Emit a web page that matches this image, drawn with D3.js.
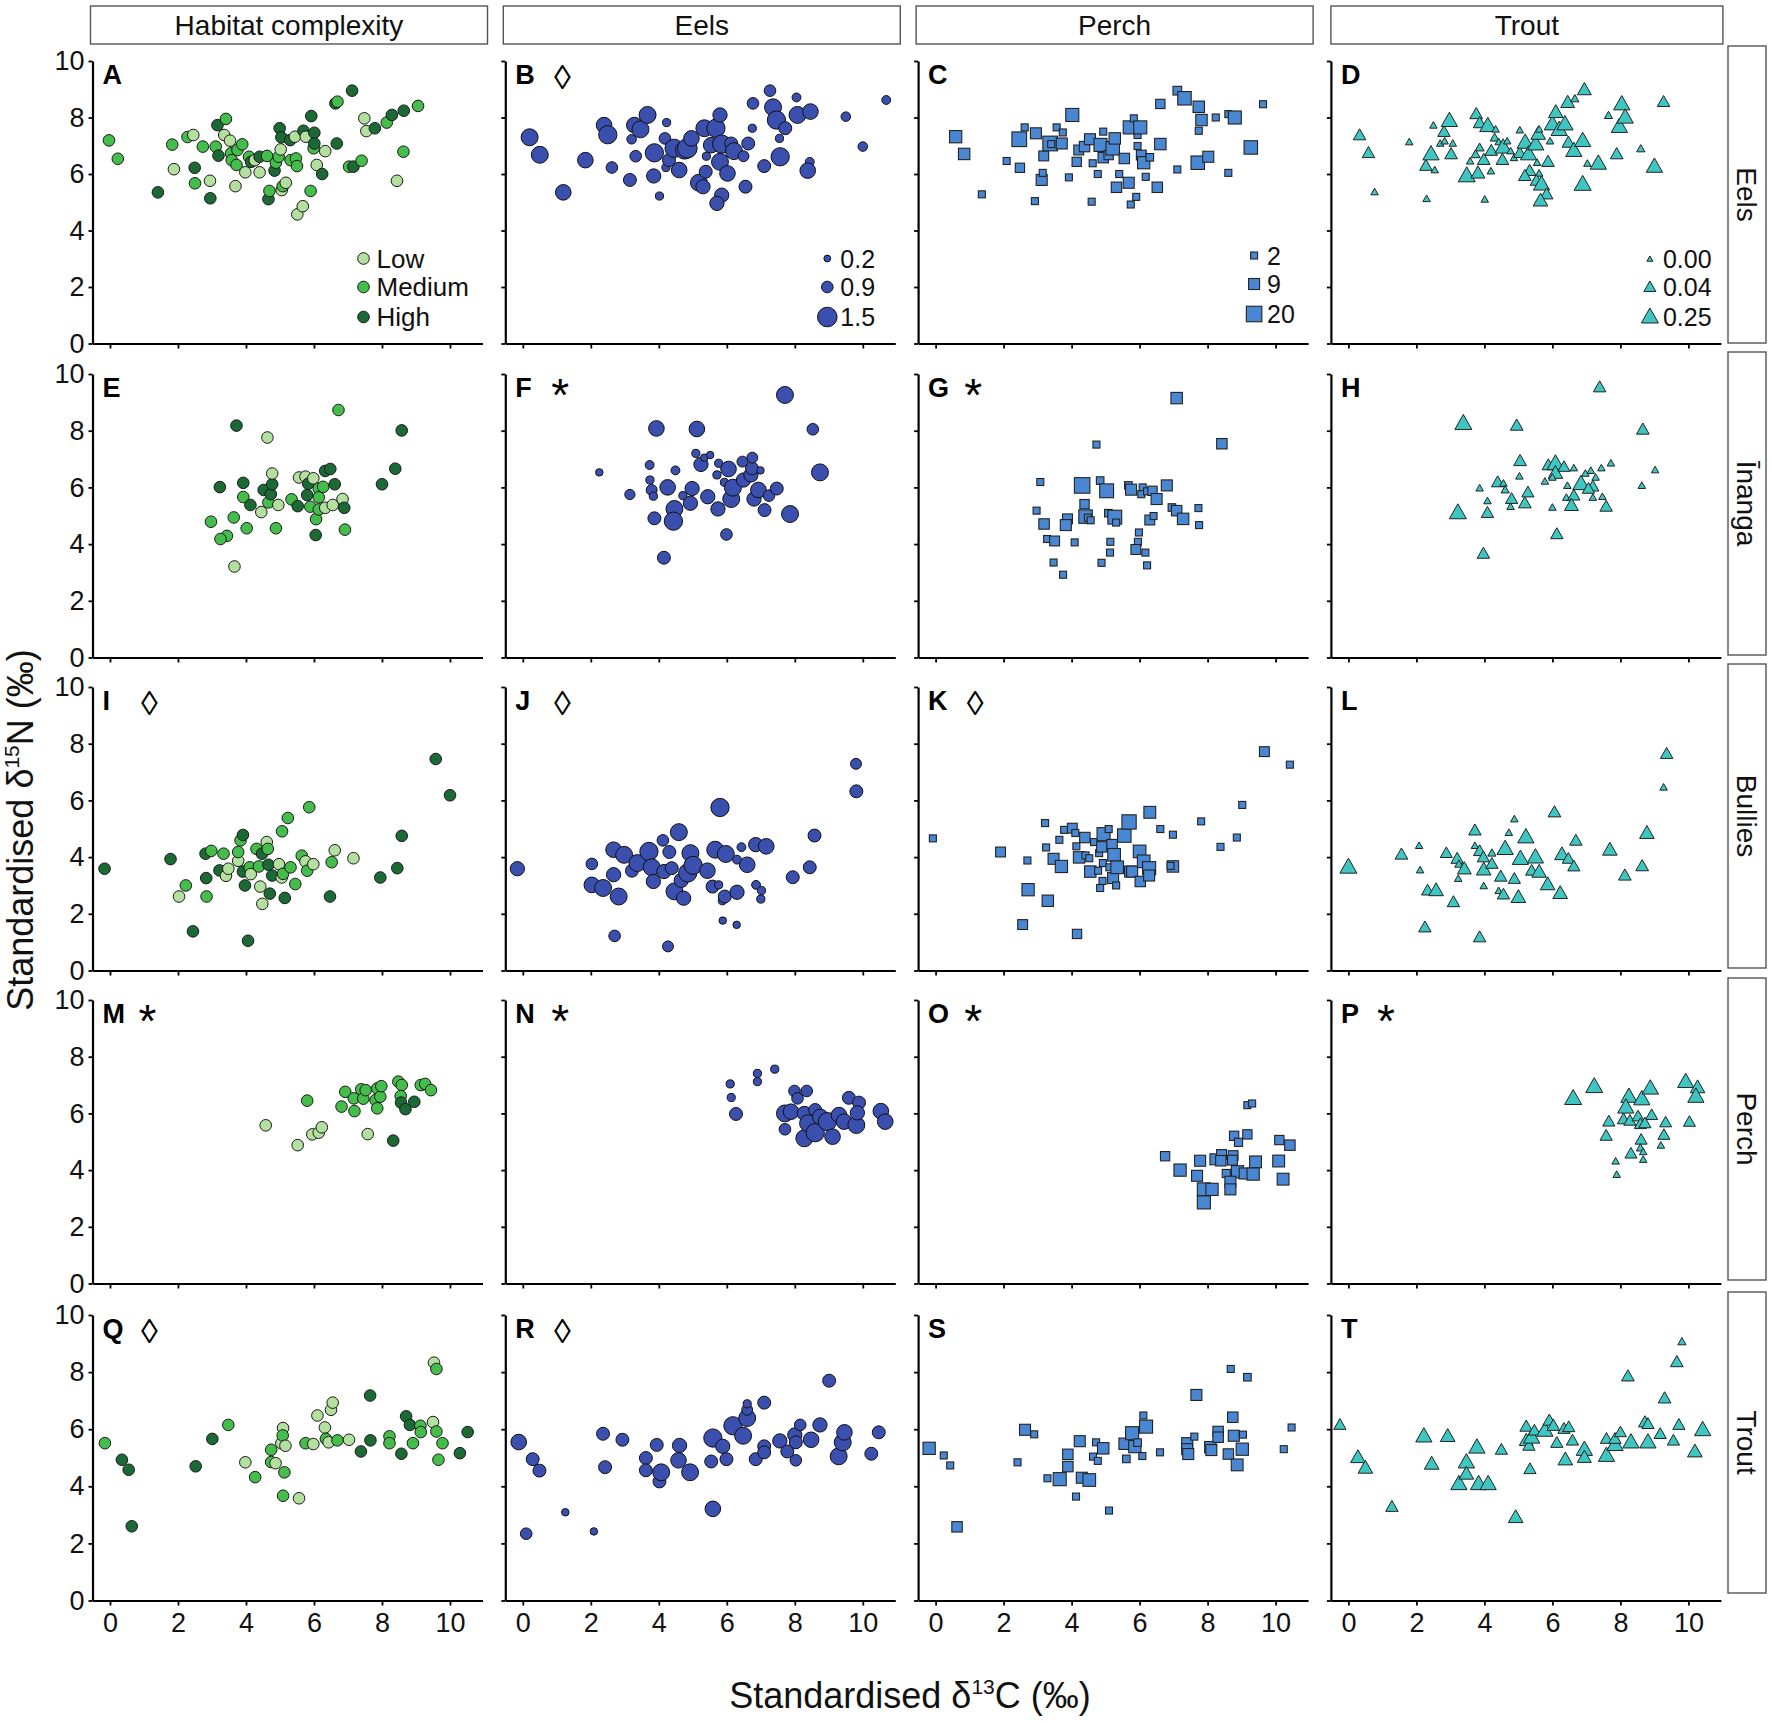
<!DOCTYPE html>
<html>
<head>
<meta charset="utf-8">
<script src="https://cdn.jsdelivr.net/npm/d3@7"></script>
<style>
body{margin:0;background:#fff;}
text{font-family:"Liberation Sans",Arial,sans-serif;}
</style>
</head>
<body>
<script>
// ---------- categories / labels ----------
const colLabels = ["Habitat complexity","Eels","Perch","Trout"];
const rowLabels = ["Eels","Īnanga","Bullies","Perch","Trout"];
const panelLetters = ["A","B","C","D","E","F","G","H","I","J","K","L","M","N","O","P","Q","R","S","T"];
const panelMarks = ["","◊","","","","*","*","","◊","◊","◊","","*","*","*","*","◊","◊","",""];
const xTicks = [0,2,4,6,8,10];
const yTicks = [0,2,4,6,8,10];
const habitatLevels = ["Low","Medium","High"];
const eelLegend = [0.2,0.9,1.5];
const perchLegend = [2,9,20];
const troutLegend = [0.00,0.04,0.25];
const troutLegendText = ["0.00","0.04","0.25"];

// ---------- data: [d13C, d15N, level or size] ----------
const panelA = [[-0.03,7.19,"M"],[0.23,6.54,"M"],[1.41,5.35,"H"],[1.83,7.04,"M"],[1.88,6.17,"L"],[2.28,7.31,"M"],[2.45,7.38,"L"],[2.49,6.22,"H"],[2.5,5.67,"M"],[2.73,6.97,"M"],[2.94,5.76,"L"],[2.95,5.14,"H"],[3.11,6.97,"M"],[3.16,7.73,"H"],[3.19,6.65,"H"],[3.36,7.38,"L"],[3.41,7.95,"M"],[3.53,7.18,"L"],[3.56,6.73,"M"],[3.58,6.49,"M"],[3.69,5.57,"L"],[3.72,6.32,"M"],[3.75,6.85,"M"],[3.89,7.05,"M"],[3.98,6.06,"L"],[4.09,6.61,"M"],[4.15,6.43,"H"],[4.26,6.49,"L"],[4.4,6.06,"L"],[4.4,6.61,"H"],[4.62,6.64,"M"],[4.66,5.11,"H"],[4.69,5.4,"M"],[4.84,6.12,"H"],[4.88,6.4,"M"],[4.96,6.61,"M"],[4.99,7.62,"H"],[5.02,6.87,"L"],[5.04,7.3,"H"],[5.05,5.43,"L"],[5.08,5.57,"M"],[5.17,5.69,"L"],[5.3,7.2,"H"],[5.31,6.49,"M"],[5.44,7.32,"L"],[5.47,6.55,"M"],[5.5,6.28,"M"],[5.51,4.57,"L"],[5.67,4.86,"L"],[5.69,7.53,"H"],[5.76,7.32,"L"],[5.9,5.4,"M"],[5.92,8.05,"H"],[5.99,6.91,"M"],[6.01,7.46,"H"],[6.01,7.08,"H"],[6.08,6.32,"L"],[6.24,6.0,"H"],[6.33,6.81,"L"],[6.63,8.5,"H"],[6.69,8.56,"M"],[6.67,7.08,"H"],[7.03,6.26,"M"],[7.12,8.95,"H"],[7.16,6.26,"H"],[7.4,6.47,"M"],[7.48,7.97,"L"],[7.54,7.52,"L"],[7.79,7.62,"H"],[8.14,7.82,"M"],[8.29,8.09,"H"],[8.44,5.76,"L"],[8.63,6.79,"M"],[8.64,8.24,"H"],[9.06,8.41,"M"]];

const panelB = [[0.2,7.3,1.3],[0.5,6.68,1.3],[1.19,5.35,1.2],[1.84,6.49,1.2],[2.39,7.73,1.2],[2.5,7.39,1.4],[2.62,6.23,0.9],[3.15,5.79,1.0],[3.2,7.23,0.6],[3.32,6.63,0.9],[3.28,7.73,1.2],[3.46,7.58,1.3],[3.67,8.09,1.3],[3.85,5.93,1.1],[3.87,6.75,1.4],[4.02,5.22,0.4],[4.18,7.26,0.9],[4.23,7.82,0.4],[4.21,6.23,0.4],[4.3,6.49,1.0],[4.45,6.91,1.4],[4.6,6.14,1.2],[4.76,6.85,1.4],[4.84,6.91,1.5],[4.96,7.26,1.2],[5.18,5.69,1.3],[5.3,5.55,1.1],[5.34,7.62,1.3],[5.4,6.63,0.4],[5.38,6.08,1.0],[5.54,7.02,1.2],[5.68,7.62,1.4],[5.8,8.09,1.1],[5.8,6.43,1.3],[5.85,7.06,1.4],[5.85,5.25,1.1],[5.71,4.96,1.1],[6.02,6.02,1.2],[6.13,7.08,1.0],[6.21,6.81,1.3],[6.49,6.63,0.8],[6.55,5.55,1.0],[6.63,7.08,1.0],[6.77,8.5,0.9],[6.75,7.62,0.4],[7.1,6.28,1.0],[7.27,8.95,0.9],[7.36,8.36,1.3],[7.46,7.91,1.4],[7.57,6.61,1.4],[7.55,7.26,0.4],[7.72,7.62,1.0],[8.05,8.71,0.5],[8.08,8.09,1.3],[8.46,8.21,1.2],[8.44,6.43,0.5],[8.38,6.12,1.2],[9.5,8.03,0.6],[10.0,6.97,0.6],[10.69,8.62,0.5]];

const panelC = [[0.59,7.32,12],[0.84,6.71,10],[1.36,5.28,2],[2.09,6.46,2],[2.48,6.22,6],[2.46,7.23,18],[2.62,7.65,2],[2.92,5.04,2],[2.95,7.44,9],[3.12,5.79,9],[3.15,6.04,2],[3.18,6.64,7],[3.37,7.08,18],[3.4,7.06,2],[3.56,7.65,2],[3.71,7.08,9],[3.74,7.47,2],[3.92,5.88,2],[4.02,8.09,14],[4.15,6.43,6],[4.21,6.85,7],[4.38,6.97,8],[4.54,7.23,9],[4.59,5.02,2],[4.62,6.38,2],[4.77,6.0,2],[4.85,7.03,14],[4.93,7.5,2],[4.93,6.58,8],[5.09,6.67,6],[5.21,6.91,15],[5.27,7.26,10],[5.32,5.53,8],[5.4,6.0,2],[5.55,6.55,8],[5.68,5.69,9],[5.71,7.65,14],[5.74,4.92,2],[5.83,7.97,2],[5.9,5.19,2],[5.94,7.38,2],[5.94,6.99,2],[6.02,7.65,14],[6.05,6.67,7],[6.12,6.4,12],[6.18,5.9,2],[6.3,6.59,3],[6.52,5.53,8],[6.61,7.06,10],[6.61,8.48,6],[7.11,8.95,5],[7.11,6.16,2],[7.32,8.68,15],[7.71,6.4,15],[7.74,8.38,10],[7.74,7.53,2],[7.82,7.91,10],[8.02,6.61,9],[8.24,8.0,2],[8.61,8.12,2],[8.61,6.04,2],[8.8,8.0,14],[9.27,6.94,15],[9.63,8.47,2]];

const panelD = [[0.33,7.34,0.06],[0.59,6.71,0.06],[0.77,5.34,0.01],[1.79,7.11,0.01],[2.3,5.1,0.01],[2.5,7.7,0.01],[2.28,6.26,0.06],[2.43,6.67,0.22],[2.54,6.12,0.01],[2.7,7.06,0.01],[2.81,7.46,0.06],[2.97,7.85,0.22],[2.83,7.14,0.01],[3.07,7.06,0.01],[3.02,6.67,0.07],[3.48,5.9,0.25],[3.76,8.09,0.07],[3.86,7.77,0.07],[4.1,7.67,0.22],[4.33,7.56,0.01],[3.86,6.91,0.02],[3.74,6.67,0.02],[3.58,6.43,0.01],[3.81,6.0,0.12],[3.98,6.47,0.07],[4.01,5.08,0.01],[4.19,6.08,0.01],[4.2,6.79,0.06],[4.3,7.26,0.02],[4.42,7.11,0.01],[4.55,6.91,0.22],[4.53,6.47,0.07],[4.67,7.14,0.01],[4.77,6.79,0.01],[4.87,6.55,0.01],[5.04,7.53,0.01],[5.04,6.71,0.05],[5.2,7.08,0.22],[5.3,6.67,0.22],[5.33,6.08,0.07],[5.19,5.9,0.07],[5.51,7.02,0.22],[5.55,6.38,0.01],[5.61,6.0,0.01],[5.58,7.38,0.15],[5.61,7.56,0.01],[5.53,5.73,0.06],[5.68,5.6,0.22],[5.83,5.25,0.07],[5.65,5.02,0.15],[5.87,6.4,0.07],[5.93,7.14,0.01],[6.0,7.73,0.22],[6.1,8.15,0.15],[6.2,7.53,0.22],[6.37,7.73,0.22],[6.47,7.08,0.07],[6.45,8.5,0.12],[6.66,8.64,0.015],[6.63,6.79,0.22],[6.89,7.14,0.22],[6.89,5.6,0.25],[6.94,8.95,0.12],[7.03,6.35,0.01],[7.35,6.34,0.22],[7.65,8.05,0.015],[7.89,6.67,0.07],[7.97,7.64,0.22],[8.04,8.44,0.22],[8.14,7.97,0.22],[8.6,6.87,0.015],[9.0,6.23,0.22],[9.27,8.52,0.06]];

const panelE = [[3.72,8.18,"H"],[4.63,7.76,"L"],[6.72,8.73,"M"],[8.58,8.01,"H"],[8.39,6.66,"H"],[8.0,6.11,"H"],[3.23,6.01,"H"],[3.92,6.16,"H"],[3.92,5.66,"M"],[4.13,5.38,"H"],[4.45,5.13,"L"],[4.52,5.91,"H"],[4.66,5.47,"M"],[4.73,5.76,"H"],[4.77,6.11,"H"],[4.77,6.49,"L"],[4.95,5.38,"L"],[3.64,4.94,"M"],[2.97,4.79,"M"],[3.44,4.29,"M"],[3.25,4.18,"M"],[4.02,4.56,"M"],[3.66,3.21,"L"],[4.88,4.56,"M"],[5.34,5.58,"M"],[5.52,5.34,"H"],[5.56,6.35,"L"],[5.75,6.38,"L"],[5.83,6.13,"H"],[5.8,5.73,"H"],[5.89,5.32,"M"],[5.98,6.32,"L"],[6.06,4.88,"M"],[6.05,4.32,"H"],[6.14,5.96,"M"],[6.14,5.65,"M"],[6.14,5.22,"M"],[6.33,6.58,"H"],[6.48,6.65,"H"],[6.33,5.28,"L"],[6.27,6.02,"M"],[6.55,5.38,"L"],[6.61,6.11,"H"],[6.84,5.59,"L"],[6.89,5.28,"H"],[6.91,4.51,"M"]];

const panelF = [[7.71,9.26,1.3],[3.93,8.08,1.2],[5.12,8.06,1.2],[8.53,8.05,0.9],[8.74,6.53,1.3],[2.25,6.53,0.3],[3.73,6.79,0.5],[3.74,6.26,0.4],[3.15,5.75,0.7],[3.79,5.91,0.8],[3.84,5.69,0.4],[3.87,4.91,1.0],[4.26,6.0,1.2],[4.46,5.24,1.3],[4.43,4.81,1.4],[4.49,6.6,0.5],[4.15,3.52,1.0],[4.71,5.71,0.4],[4.93,5.44,1.1],[4.98,5.96,1.1],[5.09,7.2,0.4],[5.24,6.81,1.1],[5.34,7.05,0.3],[5.51,7.14,0.3],[5.44,5.67,1.1],[5.71,6.44,0.4],[5.76,6.85,0.4],[5.74,5.24,1.1],[5.93,6.18,0.4],[6.05,6.65,1.2],[5.99,4.34,0.9],[6.13,5.59,1.3],[6.18,5.99,1.3],[6.46,6.91,0.8],[6.49,6.26,1.1],[6.71,6.44,1.1],[6.74,6.67,1.0],[6.75,7.05,0.8],[6.99,6.6,0.3],[6.8,5.59,1.1],[6.93,5.91,1.2],[7.11,5.2,1.0],[7.24,5.71,0.9],[7.47,5.96,1.0],[7.86,5.06,1.3]];

const panelG = [[7.09,9.15,10],[8.42,7.54,8],[4.73,7.51,2],[3.08,6.19,2],[4.31,6.07,20],[4.84,6.24,3],[5.03,5.88,16],[5.67,6.07,3],[5.75,5.92,9],[6.09,6.0,2],[6.05,5.76,2],[6.22,5.86,2],[6.38,5.88,6],[6.5,5.59,9],[6.8,6.07,9],[2.97,5.18,2],[3.19,4.71,8],[3.28,4.18,2],[3.5,4.11,7],[3.88,4.89,7],[3.83,4.67,9],[4.38,5.41,6],[4.41,4.97,15],[4.48,4.93,2],[4.56,4.84,2],[5.08,5.09,3],[5.27,4.95,16],[5.31,4.76,2],[4.09,4.06,2],[3.47,3.35,2],[3.75,2.92,2],[4.88,3.34,2],[5.13,3.7,2],[5.14,4.08,2],[5.98,4.41,2],[5.95,4.08,2],[5.89,3.81,7],[6.17,3.7,2],[6.22,3.25,2],[6.3,4.85,7],[6.41,4.99,2],[6.95,5.29,3],[7.09,5.18,8],[7.28,4.89,10],[7.73,5.27,2],[7.75,4.67,2]];

const panelH = [[7.39,9.5,0.06],[3.38,8.22,0.25],[4.95,8.15,0.07],[8.66,8.01,0.07],[9.02,6.59,0.01],[8.63,6.04,0.01],[5.05,6.9,0.07],[5.03,6.37,0.01],[3.86,5.95,0.01],[4.39,6.15,0.06],[4.56,6.12,0.01],[4.61,5.89,0.015],[4.09,5.5,0.01],[4.8,5.56,0.05],[4.77,5.3,0.01],[5.19,5.41,0.07],[5.28,5.79,0.05],[3.22,5.07,0.25],[4.09,5.07,0.06],[5.78,6.19,0.01],[5.88,6.75,0.06],[6.09,6.8,0.25],[6.09,6.47,0.15],[6.0,6.33,0.01],[6.34,6.69,0.04],[6.63,6.66,0.01],[6.44,6.04,0.01],[6.41,5.62,0.01],[6.63,5.68,0.05],[6.56,5.33,0.12],[6.0,5.27,0.01],[6.13,4.32,0.06],[3.97,3.63,0.06],[6.84,6.09,0.22],[6.97,6.47,0.01],[7.13,6.57,0.01],[7.27,6.33,0.01],[7.19,6.0,0.05],[7.19,5.62,0.01],[7.44,6.66,0.01],[7.72,6.83,0.01],[7.47,5.65,0.01],[7.58,5.29,0.06],[7.06,5.92,0.05]];

const panelI = [[-0.16,3.59,"H"],[1.78,3.93,"H"],[2.44,1.38,"H"],[2.03,2.61,"L"],[2.23,3.0,"M"],[2.84,2.61,"M"],[2.83,3.26,"H"],[2.81,4.12,"H"],[2.98,4.22,"M"],[3.34,4.12,"M"],[3.22,3.53,"H"],[3.41,3.34,"L"],[3.48,3.59,"L"],[3.77,3.87,"L"],[3.77,4.18,"M"],[3.84,4.59,"M"],[3.91,4.78,"H"],[3.91,3.49,"H"],[3.97,3.0,"H"],[4.06,1.05,"H"],[4.11,3.64,"M"],[4.14,3.4,"L"],[4.31,4.29,"M"],[4.38,3.67,"M"],[4.42,2.96,"L"],[4.47,4.12,"H"],[4.48,2.35,"L"],[4.61,4.53,"L"],[4.64,4.29,"M"],[4.66,3.73,"H"],[4.7,2.71,"H"],[4.77,3.35,"H"],[4.97,3.75,"L"],[5.05,3.28,"L"],[5.09,3.41,"M"],[5.14,2.56,"H"],[5.06,4.91,"M"],[5.23,5.38,"M"],[5.31,3.64,"M"],[5.45,3.05,"M"],[5.64,4.05,"M"],[5.75,3.85,"L"],[5.8,3.52,"M"],[5.86,5.76,"M"],[5.98,3.75,"L"],[6.52,3.82,"M"],[6.47,2.61,"H"],[6.61,4.24,"L"],[7.16,3.96,"L"],[7.95,3.28,"H"],[8.45,3.61,"H"],[8.58,4.75,"H"],[9.58,7.46,"H"],[10.0,6.18,"H"]];

const panelJ = [[-0.16,3.59,1.1],[2.03,3.76,0.9],[2.03,3.02,1.2],[2.36,2.91,1.3],[2.67,3.38,1.1],[2.67,4.26,1.2],[2.82,2.61,1.3],[2.7,1.22,0.9],[2.98,4.08,1.3],[3.21,3.52,1.0],[3.37,3.79,1.3],[3.71,4.2,1.4],[3.79,3.64,1.3],[3.84,3.14,1.1],[4.12,4.59,0.9],[4.15,3.49,1.1],[4.31,4.18,1.0],[4.27,0.85,0.8],[4.38,3.61,1.0],[4.46,2.79,1.3],[4.59,4.88,1.3],[4.66,3.18,1.1],[4.73,2.55,1.1],[4.85,3.44,1.4],[4.93,4.14,1.3],[5.01,3.71,1.4],[5.43,3.52,1.2],[5.58,2.96,1.0],[5.66,4.26,1.3],[5.8,5.75,1.4],[5.76,3.02,0.4],[5.87,2.46,0.4],[5.94,2.61,1.0],[5.97,4.11,1.3],[5.88,1.76,0.3],[6.29,1.61,0.3],[6.3,3.91,0.5],[6.3,2.76,1.1],[6.43,4.35,0.5],[6.6,3.73,1.2],[6.85,4.44,1.1],[6.86,3.02,0.5],[7.02,2.82,0.4],[7.0,2.52,0.4],[7.16,4.38,1.2],[7.94,3.29,1.0],[8.44,3.64,1.0],[8.58,4.76,1.0],[9.81,6.32,1.0],[9.8,7.29,0.8]];

const panelK = [[-0.08,4.66,2],[1.91,4.18,7],[2.7,3.88,2],[2.72,2.85,12],[2.56,1.62,7],[3.3,2.46,10],[3.22,5.2,2],[3.25,4.34,2],[3.47,3.94,9],[3.7,3.67,12],[3.78,4.96,2],[3.64,4.61,2],[4.02,5.02,7],[4.11,4.85,2],[4.14,4.38,2],[4.16,1.29,6],[4.22,3.99,10],[4.39,4.69,8],[4.41,4.06,2],[4.52,3.96,2],[4.55,3.49,10],[4.66,4.53,2],[4.78,3.52,2],[4.81,4.14,2],[4.84,2.91,2],[4.89,4.36,8],[4.91,3.16,2],[4.94,4.81,14],[4.92,3.79,2],[5.09,4.99,2],[5.11,3.64,2],[5.19,4.44,8],[5.25,4.08,13],[5.22,3.26,9],[5.31,3.0,2],[5.34,3.64,13],[5.55,4.76,15],[5.69,5.24,17],[5.72,3.49,9],[5.78,3.49,9],[6.0,4.2,13],[6.02,3.14,8],[6.12,3.85,13],[6.28,3.61,14],[6.28,3.35,9],[6.3,5.58,11],[6.61,4.99,2],[6.98,4.79,2],[6.98,3.67,10],[6.91,3.69,2],[7.81,5.26,2],[8.38,4.36,2],[8.86,4.69,2],[9.02,5.84,2],[9.67,7.72,7],[10.42,7.26,2]];

const panelL = [[0.0,3.61,0.25],[1.56,4.06,0.07],[2.08,4.38,0.01],[2.11,3.52,0.01],[2.25,1.49,0.06],[2.33,2.79,0.05],[2.58,2.79,0.15],[2.88,4.11,0.04],[3.09,2.38,0.06],[3.2,3.91,0.06],[3.25,3.73,0.015],[3.23,3.22,0.01],[3.41,3.55,0.12],[3.72,4.91,0.06],[3.72,4.38,0.01],[3.86,1.14,0.06],[3.86,4.18,0.05],[3.97,3.96,0.05],[3.98,3.52,0.15],[3.98,2.96,0.01],[4.22,4.12,0.015],[4.22,3.73,0.05],[4.42,2.79,0.01],[4.48,3.28,0.06],[4.56,2.65,0.05],[4.61,4.26,0.22],[4.72,4.84,0.01],[4.88,5.32,0.01],[4.88,3.2,0.05],[5.0,2.55,0.15],[5.06,3.91,0.22],[5.22,4.67,0.22],[5.39,3.49,0.05],[5.5,3.96,0.22],[5.61,3.44,0.15],[5.86,3.0,0.15],[6.06,5.55,0.07],[6.23,2.69,0.15],[6.28,4.06,0.15],[6.47,3.91,0.05],[6.63,3.64,0.05],[6.69,4.55,0.06],[7.69,4.22,0.15],[8.13,3.32,0.07],[8.64,3.65,0.07],[8.78,4.81,0.15],[9.27,6.44,0.01],[9.36,7.61,0.06]];

const panelM = [[4.58,5.58,"L"],[5.52,4.88,"L"],[5.95,5.26,"L"],[6.14,5.32,"L"],[6.23,5.51,"L"],[5.8,6.45,"M"],[6.81,6.24,"M"],[6.92,6.76,"M"],[7.17,6.53,"M"],[7.19,6.08,"M"],[7.39,6.85,"M"],[7.45,6.52,"M"],[7.52,6.82,"M"],[7.58,5.27,"L"],[7.81,6.47,"M"],[7.86,6.18,"M"],[7.86,6.88,"M"],[7.95,6.59,"M"],[7.98,6.96,"M"],[8.33,5.04,"H"],[8.48,7.12,"M"],[8.58,7.0,"M"],[8.55,6.61,"M"],[8.56,6.38,"H"],[8.69,6.15,"H"],[8.95,6.41,"H"],[9.14,7.0,"M"],[9.27,7.04,"M"],[9.44,6.82,"M"]];

const panelN = [[6.1,7.04,0.4],[6.13,6.56,0.4],[6.27,5.98,1.0],[6.9,7.41,0.4],[6.9,7.12,0.4],[7.41,7.56,0.4],[7.99,6.79,0.9],[8.35,6.79,0.9],[8.08,6.53,0.9],[7.71,6.0,1.3],[7.71,5.44,0.9],[7.89,6.06,1.2],[8.28,6.0,1.1],[8.6,6.12,1.0],[8.28,5.12,1.3],[8.39,5.65,1.3],[8.6,5.32,1.4],[8.75,5.88,1.2],[8.96,5.71,1.4],[9.11,5.18,1.2],[9.3,5.94,1.2],[9.45,5.71,1.2],[9.59,6.55,1.0],[9.89,6.38,1.0],[9.81,5.59,1.3],[9.84,6.02,1.1],[10.53,6.08,1.2],[10.66,5.71,1.2]];

const panelO = [[9.17,6.29,2],[9.31,6.35,2],[8.78,5.21,6],[9.17,5.26,6],[8.91,4.98,4],[10.11,5.06,6],[10.42,4.88,8],[6.75,4.49,6],[7.19,4.0,12],[7.78,4.33,9],[7.69,3.8,9],[8.23,4.38,9],[8.41,4.55,7],[8.39,4.33,8],[8.75,4.51,7],[8.73,4.35,7],[8.55,3.88,4],[9.41,4.29,11],[8.88,3.94,12],[9.09,3.88,9],[9.34,3.86,12],[10.09,4.32,11],[10.22,3.68,11],[7.89,3.32,14],[8.13,3.32,12],[8.67,3.59,9],[8.67,3.32,9],[7.89,2.86,14]];

const panelP = [[6.61,6.49,0.25],[7.23,6.91,0.25],[8.25,6.56,0.22],[8.63,6.47,0.22],[8.88,6.85,0.22],[8.16,6.18,0.22],[9.92,7.08,0.22],[10.27,6.88,0.15],[10.22,6.56,0.22],[7.66,5.68,0.05],[8.09,5.76,0.05],[8.28,5.71,0.05],[8.52,5.86,0.05],[8.92,5.91,0.04],[8.59,5.59,0.05],[8.72,5.62,0.05],[9.33,5.65,0.04],[10.03,5.67,0.04],[7.58,5.18,0.05],[8.61,5.04,0.04],[9.28,5.21,0.04],[8.59,4.76,0.015],[8.67,4.62,0.01],[9.19,4.85,0.01],[8.31,4.55,0.04],[7.86,4.29,0.01],[8.67,4.35,0.01],[7.89,3.82,0.01]];

const panelQ = [[-0.15,5.51,"M"],[0.35,4.93,"H"],[0.55,4.58,"H"],[0.64,2.6,"H"],[2.52,4.7,"H"],[3.01,5.66,"H"],[3.48,6.15,"M"],[3.98,4.84,"L"],[4.27,4.32,"M"],[4.74,5.28,"M"],[4.74,4.85,"M"],[4.87,4.81,"L"],[5.04,5.51,"L"],[5.09,6.04,"L"],[5.08,5.78,"M"],[5.16,5.42,"L"],[5.13,4.49,"M"],[5.09,3.67,"M"],[5.56,3.58,"L"],[5.75,5.51,"M"],[5.98,5.48,"L"],[6.1,6.48,"L"],[6.32,6.06,"L"],[6.35,5.66,"M"],[6.43,5.54,"L"],[6.5,6.68,"L"],[6.55,6.93,"L"],[6.69,5.61,"M"],[7.03,5.63,"L"],[7.38,5.22,"H"],[7.65,7.18,"H"],[7.66,5.61,"H"],[8.22,5.75,"M"],[8.22,5.51,"M"],[8.57,5.14,"H"],[8.71,6.45,"H"],[8.82,6.15,"H"],[8.91,5.51,"M"],[9.13,6.12,"M"],[9.14,5.9,"M"],[9.5,6.25,"L"],[9.53,8.33,"L"],[9.6,8.11,"M"],[9.6,5.92,"M"],[9.66,4.93,"M"],[9.78,5.51,"M"],[10.29,5.16,"H"],[10.52,5.9,"H"]];

const panelR = [[-0.12,5.55,1.2],[0.29,4.95,1.0],[0.49,4.55,1.0],[0.1,2.34,0.9],[1.25,3.09,0.3],[2.09,2.42,0.3],[2.36,5.84,1.0],[2.42,4.67,1.0],[2.93,5.63,1.0],[3.62,4.99,1.0],[3.62,4.56,1.0],[3.94,5.45,1.0],[4.02,4.17,1.0],[4.07,4.49,1.3],[4.61,5.43,1.1],[4.58,4.91,1.2],[4.92,4.49,1.3],[5.54,4.87,1.0],[5.59,3.21,1.2],[5.59,5.69,1.4],[5.88,5.4,1.1],[5.99,4.95,1.0],[6.18,6.12,1.4],[6.48,5.77,1.3],[6.6,6.39,1.3],[6.6,6.68,0.8],[6.6,6.89,0.4],[6.85,4.95,1.0],[7.1,5.4,1.0],[7.1,5.19,1.0],[7.1,6.93,1.0],[7.56,5.59,1.1],[7.78,5.22,1.0],[8.0,5.8,1.1],[8.03,5.54,1.0],[8.03,4.91,0.9],[8.16,6.15,0.9],[8.48,5.63,1.2],[8.74,6.15,1.1],[9.01,7.7,1.0],[9.29,5.05,1.3],[9.41,5.54,1.3],[9.46,5.89,1.2],[10.25,5.14,1.0],[10.47,5.89,1.0]];

const panelS = [[-0.19,5.33,12],[0.24,5.08,2],[0.43,4.73,2],[0.63,2.58,8],[2.41,4.84,2],[2.63,5.98,9],[2.9,5.82,2],[3.29,4.28,2],[3.65,4.25,14],[3.89,5.12,8],[3.89,4.69,8],[4.13,3.64,2],[4.24,5.58,9],[4.3,4.3,9],[4.52,4.22,13],[4.63,5.04,2],[4.72,5.54,2],[4.77,4.89,2],[4.93,5.33,10],[5.1,3.15,2],[5.56,5.49,10],[5.61,4.96,3],[5.78,5.86,14],[5.86,5.39,12],[5.94,5.53,3],[6.08,5.06,2],[6.11,6.48,2],[6.19,6.09,14],[6.6,5.19,2],[7.4,5.51,9],[7.4,5.3,9],[7.43,5.13,9],[7.61,5.74,2],[7.67,7.2,9],[8.08,5.37,10],[8.11,5.27,9],[8.31,5.92,8],[8.31,5.72,8],[8.61,5.13,8],[8.68,8.11,2],[8.74,6.42,8],[8.77,5.77,9],[8.87,4.75,11],[9.02,5.3,12],[9.04,5.81,2],[9.17,7.82,3],[10.24,5.3,2],[10.47,6.06,2]];

const panelT = [[-0.25,6.12,0.05],[0.28,4.98,0.15],[0.5,4.61,0.15],[1.28,3.25,0.06],[2.22,5.72,0.22],[2.45,4.75,0.15],[2.92,5.72,0.15],[3.25,4.05,0.22],[3.47,4.81,0.22],[3.47,4.4,0.15],[3.78,5.33,0.22],[3.83,4.05,0.22],[4.11,4.05,0.22],[4.5,5.25,0.05],[4.92,2.88,0.15],[5.23,6.06,0.07],[5.23,5.57,0.12],[5.31,5.39,0.05],[5.34,4.57,0.05],[5.39,5.68,0.22],[5.47,5.92,0.05],[5.78,5.92,0.22],[5.91,6.27,0.07],[6.03,6.09,0.07],[6.13,5.49,0.05],[6.34,5.98,0.05],[6.48,6.04,0.05],[6.38,4.9,0.15],[6.59,5.57,0.05],[6.94,5.25,0.22],[6.94,4.98,0.12],[7.59,5.04,0.22],[7.59,5.63,0.05],[7.84,5.42,0.22],[7.84,5.63,0.05],[8.0,5.86,0.04],[8.22,7.82,0.07],[8.31,5.51,0.22],[8.72,6.21,0.07],[8.81,6.15,0.05],[8.81,5.51,0.22],[9.17,5.8,0.05],[9.3,7.05,0.07],[9.56,5.57,0.05],[9.66,8.32,0.07],[9.72,6.12,0.05],[9.81,9.04,0.015],[10.19,5.18,0.15],[10.42,5.94,0.22]];

// ---------- layout ----------
const W = 1772, H = 1723;
const colOrigins = [92.5, 505.3, 918.1, 1330.9];
const rowTops = [61, 374, 687, 1000, 1315];
const rowBottoms = [343.5, 657.5, 970.5, 1283.5, 1600.5];
const axisLen = 390;
const rowBoxTops = [46, 352, 664, 978, 1292];
const rowBoxBottoms = [343, 655, 968, 1280, 1593];

const colors = {Low:"#b3df9f", Medium:"#44bd4b", High:"#1b6a36", eel:"#3b4fae", perch:"#4a87d2", trout:"#3ec7c2"};
const levelColor = {L:colors.Low, M:colors.Medium, H:colors.High};

const eelR = d3.scaleLinear().domain([0.2,0.9,1.5]).range([3.4,5.8,9.8]);
const perchS = d3.scaleLinear().domain([2,9,20]).range([7,11,15.5]);
const troutS = d3.scaleLinear().domain([0,0.04,0.25]).range([6,12,17]);

const grid = [
  [panelA,panelB,panelC,panelD],
  [panelE,panelF,panelG,panelH],
  [panelI,panelJ,panelK,panelL],
  [panelM,panelN,panelO,panelP],
  [panelQ,panelR,panelS,panelT]
];

const svg = d3.select("body").append("svg").attr("width",W).attr("height",H);
svg.append("rect").attr("width",W).attr("height",H).attr("fill","#fff");

function triPath(cx, cy, s){
  const h = s*0.88;
  return `M${cx},${cy-h*2/3}L${cx+s/2},${cy+h/3}L${cx-s/2},${cy+h/3}Z`;
}

// column header boxes
colLabels.forEach((lab,c)=>{
  const O = colOrigins[c];
  const bw = c===3 ? 392 : 397;
  const bx = c===3 ? O : O-2;
  svg.append("rect").attr("x",bx).attr("y",6).attr("width",bw).attr("height",38)
    .attr("fill","#fff").attr("stroke","#555").attr("stroke-width",1.4);
  svg.append("text").attr("x",bx+bw/2).attr("y",34.5).attr("text-anchor","middle")
    .attr("font-size",28).attr("fill","#111").text(lab);
});

// row label boxes
rowLabels.forEach((lab,r)=>{
  const t = rowBoxTops[r], b = rowBoxBottoms[r];
  svg.append("rect").attr("x",1728).attr("y",t).attr("width",38).attr("height",b-t)
    .attr("fill","#fff").attr("stroke","#555").attr("stroke-width",1.4);
  svg.append("text").attr("transform",`translate(1747,${(t+b)/2}) rotate(90)`)
    .attr("text-anchor","middle").attr("dy","0.35em")
    .attr("font-size",28).attr("fill","#111").text(lab);
});

grid.forEach((row,r)=>{
  row.forEach((data,c)=>{
    const O = colOrigins[c];
    const x = d3.scaleLinear().domain([-17.5/34, (axisLen-17.5)/34]).range([O, O+axisLen]);
    const y = d3.scaleLinear().domain([0,10]).range([rowBottoms[r], rowTops[r]]);
    const g = svg.append("g");

    // axes
    const ya = d3.axisLeft(y).tickValues(yTicks).tickSize(4).tickSizeOuter(0).tickPadding(4);
    if (c!==0) ya.tickFormat("");
    const yg = g.append("g").attr("transform",`translate(${O},0)`).call(ya);
    const xa = d3.axisBottom(x).tickValues(xTicks).tickSize(5).tickSizeOuter(0).tickPadding(7);
    if (r!==4) xa.tickFormat("");
    const xg = g.append("g").attr("transform",`translate(0,${rowBottoms[r]})`).call(xa);
    [yg,xg].forEach(ax=>{
      ax.select(".domain").attr("stroke","#000").attr("stroke-width",2.2);
      ax.selectAll(".tick line").attr("stroke","#000").attr("stroke-width",1.8);
      ax.selectAll(".tick text").attr("font-size",27).attr("fill","#111")
        .attr("font-family","'Liberation Sans',Arial,sans-serif");
    });

    // marks
    const mg = g.append("g");
    if (c===0){
      mg.selectAll("circle").data(data).join("circle")
        .attr("cx",d=>x(d[0])).attr("cy",d=>y(d[1])).attr("r",5.8)
        .attr("fill",d=>levelColor[d[2]]).attr("stroke","#1a1a1a").attr("stroke-width",1);
    } else if (c===1){
      mg.selectAll("circle").data(data).join("circle")
        .attr("cx",d=>x(d[0])).attr("cy",d=>y(d[1])).attr("r",d=>eelR(d[2]))
        .attr("fill",colors.eel).attr("stroke","#111").attr("stroke-width",1);
    } else if (c===2){
      mg.selectAll("rect").data(data).join("rect")
        .attr("x",d=>x(d[0])-perchS(d[2])/2).attr("y",d=>y(d[1])-perchS(d[2])/2)
        .attr("width",d=>perchS(d[2])).attr("height",d=>perchS(d[2]))
        .attr("fill",colors.perch).attr("stroke","#222").attr("stroke-width",1.1);
    } else {
      mg.selectAll("path").data(data).join("path")
        .attr("d",d=>triPath(x(d[0]), y(d[1]), troutS(d[2])))
        .attr("fill",colors.trout).attr("stroke","#222").attr("stroke-width",1);
    }

    // panel letter + marker
    const idx = r*4+c;
    g.append("text").attr("x",O+10).attr("y",rowTops[r]+23)
      .attr("font-size",27).attr("font-weight","bold").attr("fill","#000").text(panelLetters[idx]);
    const mk = panelMarks[idx];
    if (mk==="◊"){
      g.append("text").attr("x",O+57).attr("y",rowTops[r]+28).attr("text-anchor","middle")
        .attr("font-size",34).attr("fill","#000").text(mk);
    } else if (mk==="*"){
      g.append("text").attr("x",O+55).attr("y",rowTops[r]+37).attr("text-anchor","middle")
        .attr("font-size",46).attr("font-weight","300").attr("fill","#000").text(mk);
    }

    // legends in first row
    if (r===0){
      const ly = [rowBottoms[0]-85, rowBottoms[0]-56.5, rowBottoms[0]-26.5];
      const lg = g.append("g");
      if (c===0){
        habitatLevels.forEach((lv,i)=>{
          lg.append("circle").attr("cx",O+271).attr("cy",ly[i]).attr("r",5.8)
            .attr("fill",colors[lv]).attr("stroke","#1a1a1a").attr("stroke-width",1);
          lg.append("text").attr("x",O+284).attr("y",ly[i]+9).attr("font-size",26).attr("fill","#111").text(lv);
        });
      } else if (c===1){
        eelLegend.forEach((v,i)=>{
          lg.append("circle").attr("cx",O+322).attr("cy",ly[i]).attr("r",eelR(v))
            .attr("fill",colors.eel).attr("stroke","#111").attr("stroke-width",1);
          lg.append("text").attr("x",O+335).attr("y",ly[i]+9).attr("font-size",25).attr("fill","#111").text(v.toFixed(1));
        });
      } else if (c===2){
        perchLegend.forEach((v,i)=>{
          const s = perchS(v);
          lg.append("rect").attr("x",O+336-s/2).attr("y",ly[i]-3-s/2).attr("width",s).attr("height",s)
            .attr("fill",colors.perch).attr("stroke","#222").attr("stroke-width",1.1);
          lg.append("text").attr("x",O+349).attr("y",ly[i]+6).attr("font-size",25).attr("fill","#111").text(v);
        });
      } else {
        troutLegend.forEach((v,i)=>{
          lg.append("path").attr("d",triPath(O+319, ly[i]+1, troutS(v)))
            .attr("fill",colors.trout).attr("stroke","#222").attr("stroke-width",1);
          lg.append("text").attr("x",O+332).attr("y",ly[i]+9).attr("font-size",25).attr("fill","#111").text(troutLegendText[i]);
        });
      }
    }
  });
});

// axis titles
const yt = svg.append("text").attr("transform","translate(33,830) rotate(-90)")
  .attr("text-anchor","middle").attr("font-size",36).attr("fill","#111");
yt.append("tspan").text("Standardised δ");
yt.append("tspan").attr("font-size",21).attr("dy",-14).text("15");
yt.append("tspan").attr("dy",14).text("N (‰)");

const xt = svg.append("text").attr("x",910).attr("y",1708)
  .attr("text-anchor","middle").attr("font-size",36).attr("fill","#111");
xt.append("tspan").text("Standardised δ");
xt.append("tspan").attr("font-size",21).attr("dy",-14).text("13");
xt.append("tspan").attr("dy",14).text("C (‰)");
</script>
</body>
</html>
